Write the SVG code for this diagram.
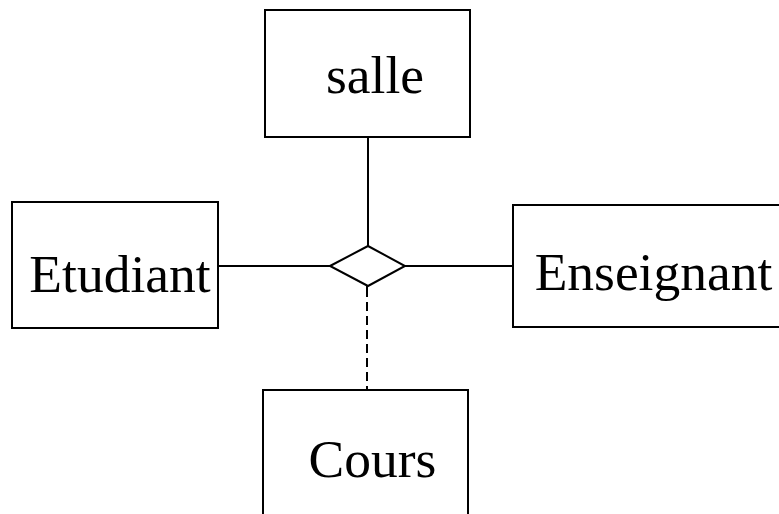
<svg xmlns="http://www.w3.org/2000/svg" width="779" height="514" viewBox="0 0 779 514">
  <style>
    .box { fill: #ffffff; stroke: #000000; stroke-width: 2; }
    .rel { fill: #ffffff; stroke: #000000; stroke-width: 2; }
    .label { font-family: "Liberation Serif", "Times New Roman", serif; font-size: 53.5px; fill: #000000; text-anchor: middle; }
    .link { stroke: #000000; stroke-width: 2; fill: none; }
    .dashed { stroke-dasharray: 9 5; }
  </style>
  <rect width="779" height="514" fill="#ffffff"/>

  <!-- connectors -->
  <g id="connectors">
    <line class="link" x1="368" y1="137" x2="368" y2="246"/>
    <line class="link" x1="218" y1="266" x2="330" y2="266"/>
    <line class="link" x1="405" y1="266" x2="513" y2="266"/>
    <line class="link" x1="367" y1="286" x2="367" y2="297"/>
    <line class="link dashed" x1="367" y1="302" x2="367" y2="390"/>
  </g>

  <g id="salle">
    <rect class="box" x="265" y="10" width="205" height="127"/>
    <text class="label" x="375" y="93">salle</text>
  </g>

  <g id="etudiant">
    <rect class="box" x="12" y="202" width="206" height="126"/>
    <text class="label" x="120" y="292">Etudiant</text>
  </g>

  <g id="enseignant">
    <rect class="box" x="513" y="205" width="280" height="122"/>
    <text class="label" x="653.5" y="290">Enseignant</text>
  </g>

  <g id="cours">
    <rect class="box" x="263" y="390" width="205" height="140"/>
    <text class="label" x="372.5" y="477">Cours</text>
  </g>

  <g id="relation">
    <polygon class="rel" points="330,266 368,246 405,266 368,286"/>
  </g>
</svg>
